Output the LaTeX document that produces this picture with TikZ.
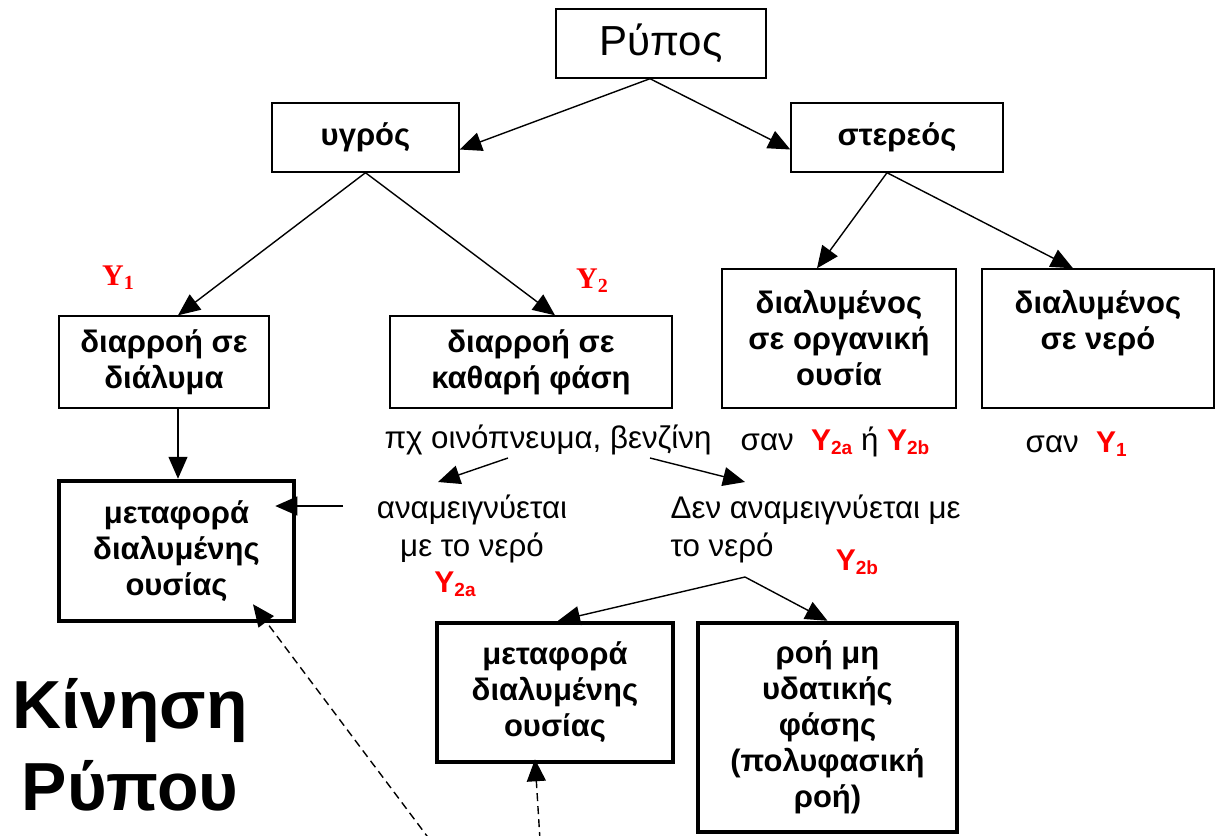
\documentclass[tikz,border=0pt]{standalone}
\usepackage{fontspec}
\setmainfont{Liberation Sans}
\newfontfamily\timesfont{Liberation Serif}
\usetikzlibrary{arrows.meta}

\newcommand{\Ysans}[1]{\textcolor{red}{\bfseries\fontsize{30}{30}\selectfont Y\raisebox{-4pt}{\fontsize{19}{19}\selectfont #1}}}
\newcommand{\Yserif}[1]{\textcolor{red}{\timesfont\bfseries\fontsize{30}{30}\selectfont Y\raisebox{-4pt}{\fontsize{20}{20}\selectfont #1}}}

\begin{document}
\begin{tikzpicture}[->,>={Triangle[length=22pt,width=19pt]},x=1pt,y=-1pt,
                    line width=1.4pt,
                    box/.style={draw,rectangle,align=center,inner sep=0pt,
                                font=\bfseries\fontsize{31}{36}\selectfont},
                    thickbox/.style={box,line width=4.5pt},
                    txt/.style={align=center,inner sep=0pt,
                                font=\fontsize{31.3}{38}\selectfont}]

  \useasboundingbox (0,0) rectangle (1215,835);

  \node[draw,minimum width=210pt,minimum height=69pt,
        font=\fontsize{42}{48}\selectfont]                    (rypos)    at (661,43.5)  {Ρύπος};
  \node[box,minimum width=187pt,minimum height=69pt]          (ygros)    at (365.5,137.5) {υγρός};
  \node[box,minimum width=212pt,minimum height=69pt]          (stereos)  at (897,137.5) {στερεός};
  \node[box,minimum width=210pt,minimum height=92pt]          (dialyma)  at (164,362)   {διαρροή σε\\διάλυμα};
  \node[box,minimum width=282pt,minimum height=92pt]          (kathari)  at (531,362)   {διαρροή σε\\καθαρή φάση};
  \node[box,minimum width=234pt,minimum height=139pt]         (organiki) at (839,338.5) {διαλυμένος\\σε οργανική\\ουσία};
  \node[box,minimum width=232pt,minimum height=139pt]         (nero)     at (1098,338.5) {διαλυμένος\\σε νερό\\\phantom{ουσία}};
  \node[thickbox,minimum width=235pt,minimum height=140pt]    (meta1)    at (176.5,551) {μεταφορά\\διαλυμένης\\ουσίας};
  \node[thickbox,minimum width=236pt,minimum height=139pt]    (meta2)    at (555,692.5) {μεταφορά\\διαλυμένης\\ουσίας};
  \node[thickbox,minimum width=259pt,minimum height=209pt]    (roi)      at (827.5,727.5) {ροή μη\\υδατικής\\φάσης\\(πολυφασική\\ροή)};

  \node[txt,anchor=base]           (pch)  at (548,448)  {πχ οινόπνευμα, βενζίνη};
  \node[txt,anchor=base west]      (san1) at (740,450)  {σαν~~\Ysans{2a} ή \Ysans{2b}};
  \node[txt,anchor=base west]      (san2) at (1025,452) {σαν~~\Ysans{1}};
  \node[txt,anchor=base]           (anam) at (472,556)  {αναμειγνύεται\\με το νερό};
  \node[txt,anchor=base west,align=left] (den) at (670,556) {Δεν αναμειγνύεται με\\το νερό};
  \node[anchor=base,inner sep=0pt] (y2a)  at (455,592)  {\Ysans{2a}};
  \node[anchor=base,inner sep=0pt] (y2b)  at (857,570)  {\Ysans{2b}};
  \node[anchor=base,inner sep=0pt] (y1)   at (118,285)  {\Yserif{1}};
  \node[anchor=base,inner sep=0pt] (y2)   at (592,288)  {\Yserif{2}};
  \node[anchor=base,align=center,inner sep=0pt,
        font=\bfseries\fontsize{68}{82}\selectfont] (kinisi) at (130,810) {Κίνηση\\Ρύπου};

  \coordinate (pchL)  at (508,458);
  \coordinate (pchR)  at (650,458);
  \coordinate (anamT) at (438,482);
  \coordinate (denT)  at (745,482);
  \coordinate (anamL) at (343,506);
  \coordinate (denB)  at (745,577);
  \coordinate (cut1)  at (430,840);
  \coordinate (cut2)  at (540,840);

  \path ([xshift=-11pt]rypos.south) edge ([yshift=-12pt]ygros.east)
                                    edge ([yshift=-12pt]stereos.west)
        (ygros.south)               edge ([xshift=14pt]dialyma.north)
                                    edge ([xshift=24pt]kathari.north)
        ([xshift=-10pt]stereos.south) edge ([xshift=-22pt]organiki.north)
                                    edge ([xshift=-25pt]nero.north)
        ([xshift=14pt]dialyma.south) edge ([xshift=1.5pt]meta1.north)
        (pchL)                      edge (anamT)
        (pchR)                      edge (denT)
        (anamL)                     edge ([xshift=-21pt,yshift=45pt]meta1.east)
        (denB)                      edge ([xshift=3pt]meta2.north)
                                    edge (roi.north);

  \path[dash pattern=on 8pt off 5pt]
        (cut1) edge ([xshift=76.5pt,yshift=19pt]meta1.south)
        (cut2) edge ([xshift=-20pt,yshift=5pt]meta2.south);
\end{tikzpicture}
\end{document}
